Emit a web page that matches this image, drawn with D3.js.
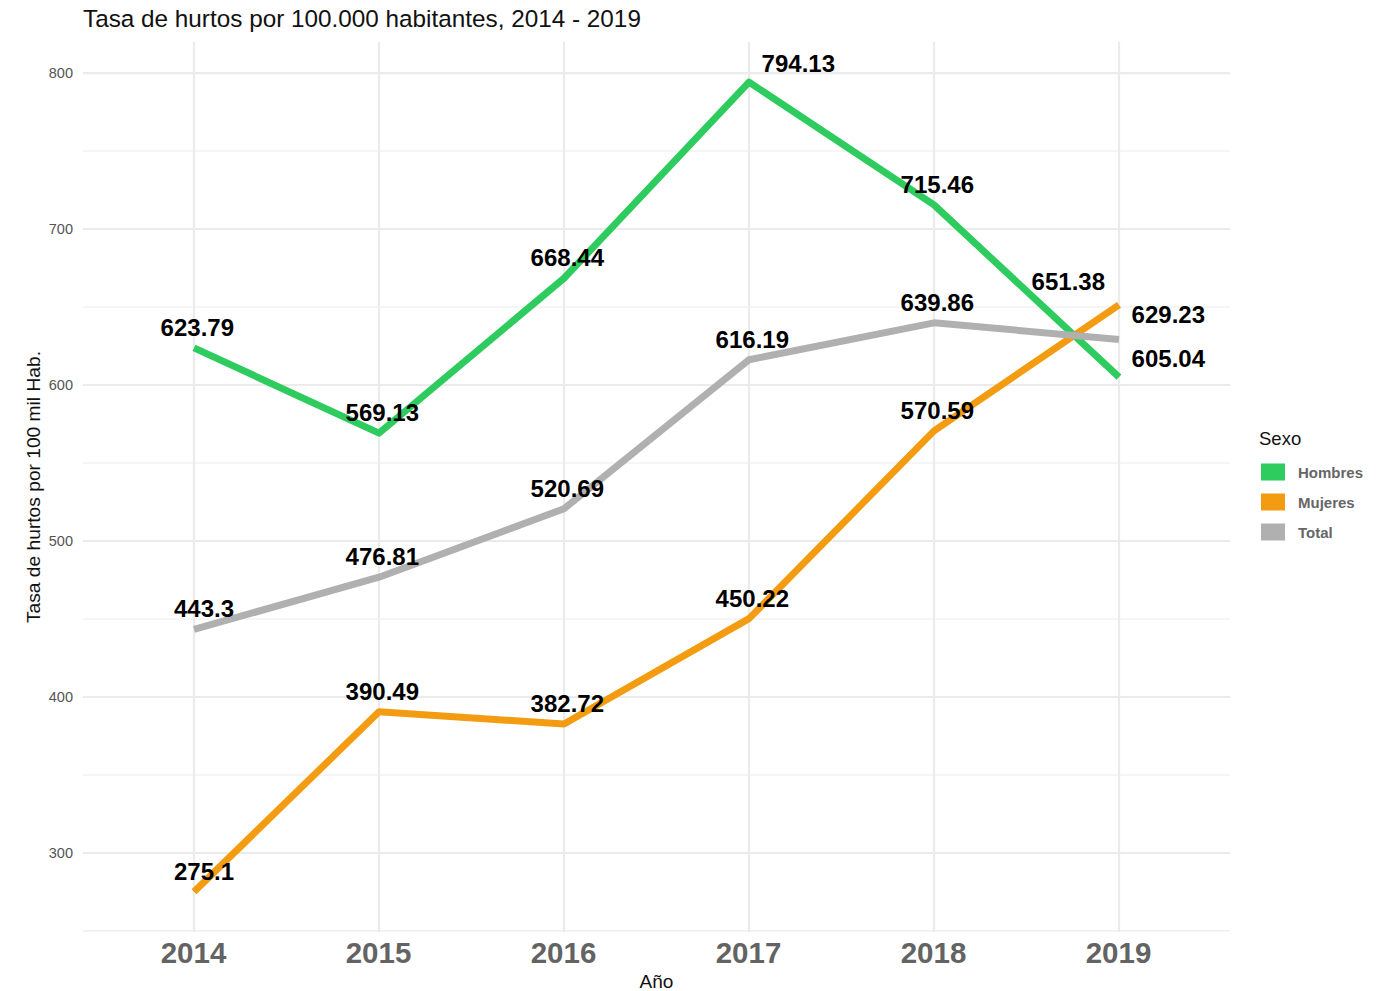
<!DOCTYPE html>
<html><head><meta charset="utf-8">
<script src="https://cdn.jsdelivr.net/npm/d3@7"></script>
<style>body{margin:0;background:#fff}svg{display:block;font-family:"Liberation Sans",Arial,sans-serif}</style>
</head><body>
<svg id="chart" width="1394" height="991"></svg>
<script>
const years = ["2014","2015","2016","2017","2018","2019"];
const seriesNames = ["Hombres","Mujeres","Total"];
const hombres = [623.79,569.13,668.44,794.13,715.46,605.04];
const mujeres = [275.1,390.49,382.72,450.22,570.59,651.38];
const total = [443.3,476.81,520.69,616.19,639.86,629.23];
const yTicks = [300,400,500,600,700,800];
const colors = ["#2ecc5f","#f39c12","#b0b0b0"];
const title = "Tasa de hurtos por 100.000 habitantes, 2014 - 2019";
const yTitle = "Tasa de hurtos por 100 mil Hab.";
const xTitle = "Año";
const legendTitle = "Sexo";
// label nudges (pixels) for labels that were moved to avoid overlap
const labelNudge = {"Hombres-2017":[46,1.5],"Hombres-2019":[46,2],"Total-2019":[46,-4],"Mujeres-2019":[-54,-3]};

const values = [hombres, mujeres, total];
const series = seriesNames.map((n,i)=>({name:n,color:colors[i],values:years.map((y,j)=>({year:y,value:values[i][j]}))}));

const svg = d3.select("#chart");
const pL=83, pR=1230, pT=41.7, pB=932.3;
const allVals = values.flat();
const lo = d3.min(allVals), hi = d3.max(allVals), pad=(hi-lo)*0.05;
const x = d3.scalePoint().domain(years).range([pL,pR]).padding(0.6);
const y = d3.scaleLinear().domain([lo-pad,hi+pad]).range([pB,pT]);

// grid
const g = svg.append("g");
const minor = d3.range(250,851,100).filter(v=>v>=lo-pad&&v<=hi+pad);
g.selectAll(".minor").data(minor).join("line")
 .attr("x1",pL).attr("x2",pR).attr("y1",d=>y(d)).attr("y2",d=>y(d))
 .attr("stroke","#ebebeb").attr("stroke-width",1.2);
g.selectAll(".major").data(yTicks).join("line")
 .attr("x1",pL).attr("x2",pR).attr("y1",d=>y(d)).attr("y2",d=>y(d))
 .attr("stroke","#ebebeb").attr("stroke-width",2.2);
g.selectAll(".vmajor").data(years).join("line")
 .attr("x1",d=>x(d)).attr("x2",d=>x(d)).attr("y1",pT).attr("y2",pB)
 .attr("stroke","#ebebeb").attr("stroke-width",2.2);

// axes (no domain lines, no ticks)
const yAxis = svg.append("g").attr("transform",`translate(${pL},0)`)
 .call(d3.axisLeft(y).tickValues(yTicks).tickSize(0).tickPadding(10));
yAxis.select(".domain").remove();
yAxis.selectAll("text").attr("font-size",14.5).attr("fill","#555").attr("font-family","Liberation Sans, Arial, sans-serif");
const xAxis = svg.append("g").attr("transform",`translate(-1,${pB})`)
 .call(d3.axisBottom(x).tickSize(0).tickPadding(10));
xAxis.select(".domain").remove();
xAxis.selectAll("text").attr("font-size",29.5).attr("font-weight","bold").attr("fill","#636363").attr("font-family","Liberation Sans, Arial, sans-serif");

// lines
const line = d3.line().x(d=>x(d.year)).y(d=>y(d.value));
svg.append("g").selectAll("path").data(series).join("path")
 .attr("d",d=>line(d.values)).attr("fill","none").attr("stroke",d=>d.color)
 .attr("stroke-width",7).attr("stroke-linejoin","round").attr("stroke-linecap","butt");

// labels
const lab = svg.append("g");
series.forEach(s=>{
  s.values.forEach(d=>{
    const nd = labelNudge[s.name+"-"+d.year]||[0,0];
    lab.append("text").attr("x",x(d.year)+40+nd[0]).attr("y",y(d.value)-12+nd[1])
      .attr("text-anchor","end").attr("font-size",24).attr("font-weight","bold").attr("fill","#000")
      .text(d3.format("")(d.value));
  });
});

// titles
svg.append("text").attr("x",83).attr("y",26.5).attr("font-size",24.3).attr("fill","#111").text(title);
svg.append("text").attr("transform",`translate(40,${(pT+pB)/2}) rotate(-90)`).attr("text-anchor","middle")
 .attr("font-size",19.2).attr("fill","#111").text(yTitle);
svg.append("text").attr("x",(pL+pR)/2).attr("y",988).attr("text-anchor","middle")
 .attr("font-size",19).attr("fill","#111").text(xTitle);

// legend
const lg = svg.append("g");
lg.append("text").attr("x",1259).attr("y",445).attr("font-size",18.5).attr("fill","#111").text(legendTitle);
const items = lg.selectAll("g.item").data(series).join("g").attr("transform",(d,i)=>`translate(1261,${472+i*30})`);
items.append("rect").attr("x",0).attr("y",-8.5).attr("width",24).attr("height",17).attr("fill",d=>d.color);
items.append("text").attr("x",37).attr("y",5.5).attr("font-size",15).attr("font-weight","bold").attr("fill","#666").text(d=>d.name);
</script>
</body></html>
